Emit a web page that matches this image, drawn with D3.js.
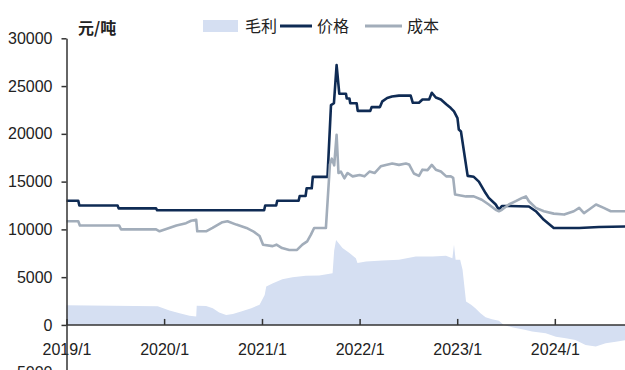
<!DOCTYPE html>
<html>
<head>
<meta charset="utf-8">
<script src="https://cdn.jsdelivr.net/npm/d3@7/dist/d3.min.js"></script>
<style>
  html, body { margin: 0; padding: 0; background: #fff; }
  svg { display: block; }
  .axis text { font-family: "Liberation Sans", Arial, sans-serif; font-size: 16px; fill: #222; }
  .axis path, .axis line { stroke: #333; stroke-width: 1.5; }
  .cjk { font-family: "Noto Sans CJK SC", sans-serif; fill: #222; }
</style>
</head>
<body>
<svg id="chart" width="625" height="370"></svg>
<script>
// 价格 (元/吨)
const priceData = [
  ["2019-01-01", 13000], ["2019-02-14", 13000], ["2019-02-18", 12500], ["2019-07-11", 12500],
  ["2019-07-15", 12200], ["2019-12-02", 12200], ["2019-12-06", 12000], ["2021-01-09", 12000],
  ["2021-01-13", 12500], ["2021-02-23", 12500], ["2021-02-27", 13000], ["2021-05-18", 13000],
  ["2021-05-22", 13500], ["2021-06-13", 13500], ["2021-06-17", 14300], ["2021-07-06", 14300],
  ["2021-07-10", 15500], ["2021-09-03", 15500], ["2021-09-16", 23000], ["2021-09-27", 23200],
  ["2021-10-07", 27200], ["2021-10-17", 24200], ["2021-11-11", 24200], ["2021-11-14", 23700],
  ["2021-11-24", 23700], ["2021-11-27", 23200], ["2021-12-21", 23200], ["2021-12-25", 22400],
  ["2022-02-10", 22400], ["2022-02-15", 22800], ["2022-03-18", 22800], ["2022-03-27", 23400],
  ["2022-04-14", 23750], ["2022-05-02", 23900], ["2022-05-28", 24000], ["2022-07-11", 24000],
  ["2022-07-19", 23250], ["2022-08-11", 23250], ["2022-08-24", 23600], ["2022-09-18", 23600],
  ["2022-09-28", 24300], ["2022-10-13", 23800], ["2022-11-01", 23600], ["2022-11-21", 23100],
  ["2022-12-08", 22700], ["2022-12-20", 22350], ["2023-01-02", 21650], ["2023-01-07", 20450],
  ["2023-01-15", 20250], ["2023-02-09", 15600], ["2023-03-04", 15500], ["2023-03-23", 15000],
  ["2023-04-17", 13800], ["2023-04-29", 13300], ["2023-05-25", 12600], ["2023-06-06", 12050],
  ["2023-06-17", 12450], ["2023-07-13", 12450], ["2023-09-26", 12400], ["2023-10-22", 11900],
  ["2023-11-21", 11000], ["2023-12-28", 10150], ["2024-04-01", 10150], ["2024-06-14", 10250],
  ["2024-10-01", 10300]
];

// 成本 (元/吨)
const costData = [
  ["2019-01-01", 10850], ["2019-02-14", 10850], ["2019-02-20", 10400], ["2019-07-17", 10400],
  ["2019-07-24", 10000], ["2019-12-02", 10000], ["2019-12-15", 9800], ["2020-01-09", 10050],
  ["2020-02-16", 10400], ["2020-03-23", 10650], ["2020-04-11", 10900], ["2020-04-30", 11000],
  ["2020-05-04", 9800], ["2020-06-06", 9800], ["2020-06-30", 10150], ["2020-08-06", 10750],
  ["2020-08-25", 10850], ["2020-09-27", 10500], ["2020-11-04", 10150], ["2020-11-29", 9800],
  ["2020-12-23", 9300], ["2021-01-05", 8400], ["2021-02-10", 8250], ["2021-02-24", 8400],
  ["2021-03-17", 8050], ["2021-04-13", 7850], ["2021-05-12", 7850], ["2021-06-01", 8400],
  ["2021-06-19", 8750], ["2021-07-03", 9450], ["2021-07-15", 10150], ["2021-08-28", 10150],
  ["2021-09-12", 16800], ["2021-09-19", 17400], ["2021-09-28", 16700], ["2021-10-07", 19900],
  ["2021-10-14", 15900], ["2021-10-23", 16050], ["2021-11-05", 15350], ["2021-11-17", 15900],
  ["2021-12-06", 15550], ["2022-01-01", 15700], ["2022-01-19", 15550], ["2022-02-07", 16050],
  ["2022-02-26", 15900], ["2022-03-21", 16600], ["2022-04-09", 16750], ["2022-05-03", 16900],
  ["2022-05-28", 16750], ["2022-06-23", 16900], ["2022-07-05", 16800], ["2022-07-23", 15850],
  ["2022-08-11", 15600], ["2022-08-24", 16250], ["2022-09-12", 16200], ["2022-09-28", 16750],
  ["2022-10-13", 16250], ["2022-11-01", 16050], ["2022-11-21", 15550], ["2022-12-08", 15550],
  ["2022-12-17", 15400], ["2022-12-24", 13650], ["2023-02-03", 13450], ["2023-03-04", 13450],
  ["2023-04-03", 13100], ["2023-04-29", 12600], ["2023-05-25", 12050], ["2023-06-06", 11900],
  ["2023-06-17", 12050], ["2023-07-13", 12600], ["2023-08-08", 12950], ["2023-09-01", 13300],
  ["2023-09-15", 13450], ["2023-09-26", 12950], ["2023-10-22", 12250], ["2023-11-21", 11900],
  ["2023-12-28", 11650], ["2024-02-05", 11550], ["2024-03-12", 11900], ["2024-04-01", 12250],
  ["2024-04-19", 11700], ["2024-05-07", 12050], ["2024-06-03", 12600], ["2024-07-02", 12250],
  ["2024-07-28", 11900], ["2024-10-01", 11900]
];

// 毛利 (元/吨)
const marginData = [
  ["2019-01-01", 2050], ["2019-12-08", 1950], ["2020-01-21", 1500], ["2020-02-28", 1230],
  ["2020-04-05", 950], ["2020-04-30", 870], ["2020-05-02", 2020], ["2020-06-06", 1990],
  ["2020-07-01", 1750], ["2020-07-25", 1290], ["2020-08-20", 1050], ["2020-09-14", 1150],
  ["2020-10-15", 1400], ["2020-11-22", 1750], ["2020-12-23", 2100], ["2021-01-11", 3140],
  ["2021-01-17", 4010], ["2021-02-11", 4370], ["2021-03-18", 4790], ["2021-04-25", 5000],
  ["2021-06-14", 5140], ["2021-08-03", 5170], ["2021-09-22", 5420], ["2021-09-28", 7800],
  ["2021-10-05", 8900], ["2021-10-29", 8040], ["2021-11-24", 7520], ["2021-12-18", 6990],
  ["2021-12-24", 6470], ["2022-01-25", 6640], ["2022-03-27", 6740], ["2022-05-28", 6810],
  ["2022-07-30", 7160], ["2022-10-01", 7160], ["2022-11-20", 7230], ["2022-12-14", 6990],
  ["2022-12-20", 8390], ["2022-12-26", 6810], ["2023-01-12", 6810], ["2023-01-21", 5770],
  ["2023-02-03", 2450], ["2023-02-22", 2100], ["2023-03-10", 1750], ["2023-03-29", 1230],
  ["2023-04-17", 810], ["2023-05-11", 600], ["2023-06-06", 450], ["2023-06-24", 0],
  ["2023-07-25", -240], ["2023-09-14", -520], ["2023-10-08", -700], ["2023-11-28", -870],
  ["2024-01-05", -1230], ["2024-02-11", -1400], ["2024-03-18", -1570], ["2024-04-25", -2100],
  ["2024-06-02", -2270], ["2024-07-09", -1920], ["2024-08-16", -1750], ["2024-10-01", -1570]
];

const xTickLabels = ["2019/1", "2020/1", "2021/1", "2022/1", "2023/1", "2024/1"];
const yTickValues = [-5000, 0, 5000, 10000, 15000, 20000, 25000, 30000];
const legendLabels = ["毛利", "价格", "成本"];
const unitLabel = "元/吨";

const colors = { margin: "#d5dff2", price: "#0f2b54", cost: "#a2adba" };

const parse = d3.timeParse("%Y-%m-%d");
const toPoints = arr => arr.map(([d, v]) => ({ date: parse(d), value: v }));
const price = toPoints(priceData);
const cost = toPoints(costData);
const margin = toPoints(marginData);

const svg = d3.select("#chart");

const x = d3.scaleTime()
  .domain([parse("2019-01-01"), parse("2025-01-01")])
  .range([66.5, 652.7]);

const y = d3.scaleLinear()
  .domain([-5000, 30000])
  .range([372.7, 38.3]);

// 毛利 area
svg.append("path")
  .datum(margin)
  .attr("fill", colors.margin)
  .attr("d", d3.area().x(d => x(d.date)).y0(y(0)).y1(d => y(d.value)));

const line = d3.line().x(d => x(d.date)).y(d => y(d.value));

svg.append("path")
  .datum(price)
  .attr("fill", "none")
  .attr("stroke", colors.price)
  .attr("stroke-width", 2.6)
  .attr("stroke-linejoin", "round")
  .attr("d", line);

svg.append("path")
  .datum(cost)
  .attr("fill", "none")
  .attr("stroke", colors.cost)
  .attr("stroke-width", 2.6)
  .attr("stroke-linejoin", "round")
  .attr("d", line);

// x axis along the zero line, ticks pointing up
const xTicks = xTickLabels.map(s => {
  const [yy, mm] = s.split("/");
  return new Date(+yy, +mm - 1, 1);
});
const xAxis = svg.append("g")
  .attr("class", "axis")
  .attr("transform", `translate(0,${y(0)})`)
  .call(d3.axisBottom(x)
    .tickValues(xTicks)
    .tickFormat((d, i) => xTickLabels[i])
    .tickSizeInner(-6)
    .tickSizeOuter(0)
    .tickPadding(19));
xAxis.select(".domain").attr("d", `M${x.range()[0]},0H625`);

// y axis
svg.append("g")
  .attr("class", "axis")
  .attr("transform", `translate(${x.range()[0]},0)`)
  .call(d3.axisLeft(y)
    .tickValues(yTickValues)
    .tickFormat(d3.format("d"))
    .tickSizeInner(5)
    .tickSizeOuter(0)
    .tickPadding(9));

// unit label
svg.append("text")
  .attr("class", "cjk")
  .attr("x", 78)
  .attr("y", 34)
  .attr("font-size", 16)
  .attr("font-weight", "bold")
  .text(unitLabel);

// legend
const lg = svg.append("g").attr("class", "legend");
lg.append("rect").attr("x", 203).attr("y", 20).attr("width", 35).attr("height", 12).attr("fill", colors.margin);
lg.append("text").attr("class", "cjk").attr("x", 245).attr("y", 32).attr("font-size", 16).text(legendLabels[0]);
lg.append("line").attr("x1", 280).attr("x2", 312).attr("y1", 26).attr("y2", 26)
  .attr("stroke", colors.price).attr("stroke-width", 3);
lg.append("text").attr("class", "cjk").attr("x", 317).attr("y", 32).attr("font-size", 16).text(legendLabels[1]);
lg.append("line").attr("x1", 365).attr("x2", 402).attr("y1", 26).attr("y2", 26)
  .attr("stroke", colors.cost).attr("stroke-width", 3);
lg.append("text").attr("class", "cjk").attr("x", 407).attr("y", 32).attr("font-size", 16).text(legendLabels[2]);
</script>
</body>
</html>
